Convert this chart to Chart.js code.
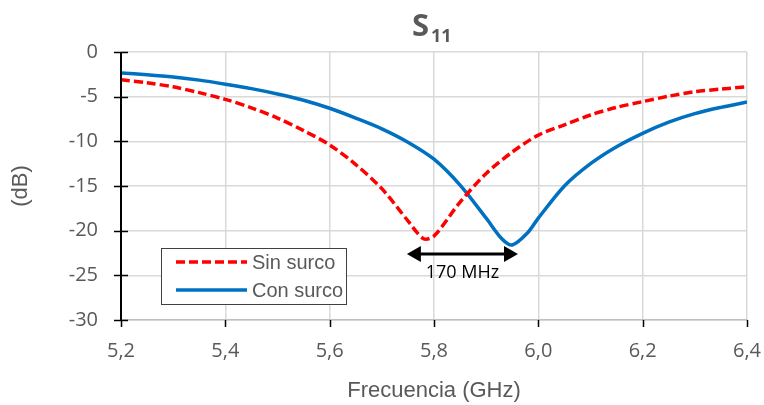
<!DOCTYPE html>
<html>
<head>
<meta charset="utf-8">
<script src="https://cdn.jsdelivr.net/npm/chart.js@4.4.1/dist/chart.umd.min.js"></script>
<style>
  html, body { margin: 0; padding: 0; background: #ffffff; }
  #wrap { width: 764px; height: 405px; }
</style>
</head>
<body>
<div id="wrap"><canvas id="s11Chart" width="764" height="405"></canvas></div>
<script>
// data
const freqSin = [5.20, 5.25, 5.30, 5.35, 5.40, 5.45, 5.50, 5.55, 5.60, 5.65, 5.70, 5.75, 5.78, 5.80, 5.85, 5.90, 5.95, 6.00, 6.05, 6.10, 6.15, 6.20, 6.25, 6.30, 6.35, 6.40];
const sinSurco = [-3.1, -3.45, -3.9, -4.55, -5.3, -6.25, -7.4, -8.8, -10.4, -12.6, -15.3, -18.9, -20.9, -20.6, -16.8, -13.6, -11.2, -9.3, -8.15, -7.05, -6.2, -5.55, -4.95, -4.45, -4.15, -3.9];

const freqCon = [5.20, 5.25, 5.30, 5.35, 5.40, 5.45, 5.50, 5.55, 5.60, 5.65, 5.70, 5.75, 5.80, 5.85, 5.90, 5.93, 5.95, 5.98, 6.00, 6.05, 6.10, 6.15, 6.20, 6.25, 6.30, 6.35, 6.40];
const conSurco = [-2.35, -2.55, -2.8, -3.15, -3.6, -4.1, -4.7, -5.4, -6.3, -7.4, -8.6, -10.1, -12.0, -14.9, -18.6, -20.9, -21.6, -20.2, -18.6, -15.0, -12.5, -10.6, -9.1, -7.85, -6.9, -6.2, -5.6];

const seriesNames = ["Sin surco", "Con surco"];
const xTicks = [5.2, 5.4, 5.6, 5.8, 6.0, 6.2, 6.4];
const yTicks = [0, -5, -10, -15, -20, -25, -30];

// bandwidth marker between the two minima
const arrowFrom = 5.748;
const arrowTo = 5.961;
const arrowY = -22.6;
const arrowText = "170 MHz";

const gray = "#595959";
const gridColor = "#d9d9d9";

function toPoints(xs, ys) {
  return xs.map((x, i) => ({ x: x, y: ys[i] }));
}

const decorPlugin = {
  id: "decor",
  afterDatasetsDraw(chart) {
    const ctx = chart.ctx;
    const xs = chart.scales.x;
    const ys = chart.scales.y;
    const area = chart.chartArea;

    ctx.save();

    // tick marks: y crosses the axis, x hangs below
    ctx.strokeStyle = "#000000";
    ctx.lineWidth = 1.5;
    yTicks.forEach((v) => {
      const py = Math.round(ys.getPixelForValue(v)) + 0.5;
      ctx.beginPath();
      ctx.moveTo(area.left - 7, py);
      ctx.lineTo(area.left + 7, py);
      ctx.stroke();
    });
    xTicks.forEach((v) => {
      const px = Math.round(xs.getPixelForValue(v)) + 0.5;
      ctx.beginPath();
      ctx.moveTo(px, area.bottom);
      ctx.lineTo(px, area.bottom + 7);
      ctx.stroke();
    });
    // left axis line
    ctx.lineWidth = 2;
    ctx.beginPath();
    ctx.moveTo(area.left, area.top);
    ctx.lineTo(area.left, area.bottom);
    ctx.stroke();

    // double arrow
    const ax1 = xs.getPixelForValue(arrowFrom);
    const ax2 = xs.getPixelForValue(arrowTo);
    const ay = ys.getPixelForValue(arrowY);
    ctx.strokeStyle = "#000000";
    ctx.fillStyle = "#000000";
    ctx.lineWidth = 3;
    ctx.beginPath();
    ctx.moveTo(ax1 + 10, ay);
    ctx.lineTo(ax2 - 10, ay);
    ctx.stroke();
    ctx.beginPath();
    ctx.moveTo(ax1, ay);
    ctx.lineTo(ax1 + 14, ay - 8);
    ctx.lineTo(ax1 + 14, ay + 8);
    ctx.closePath();
    ctx.fill();
    ctx.beginPath();
    ctx.moveTo(ax2, ay);
    ctx.lineTo(ax2 - 14, ay - 8);
    ctx.lineTo(ax2 - 14, ay + 8);
    ctx.closePath();
    ctx.fill();
    ctx.font = "18px 'Open Sans'";
    ctx.textAlign = "center";
    ctx.textBaseline = "middle";
    ctx.fillText(arrowText, (ax1 + ax2) / 2, ay + 19);

    // legend box inside the plot
    const lx = 161, ly = 248, lw = 185, lh = 56;
    ctx.fillStyle = "#ffffff";
    ctx.fillRect(lx, ly, lw, lh);
    ctx.strokeStyle = "#404040";
    ctx.lineWidth = 1;
    ctx.strokeRect(lx + 0.5, ly + 0.5, lw, lh);
    chart.data.datasets.forEach((ds, i) => {
      const rowY = ly + 14 + i * 28;
      ctx.strokeStyle = ds.borderColor;
      ctx.lineWidth = ds.borderWidth;
      ctx.setLineDash(ds.borderDash || []);
      ctx.beginPath();
      ctx.moveTo(lx + 15, rowY);
      ctx.lineTo(lx + 86, rowY);
      ctx.stroke();
      ctx.setLineDash([]);
      ctx.fillStyle = gray;
      ctx.font = "20px 'Liberation Sans'";
      ctx.textAlign = "left";
      ctx.textBaseline = "middle";
      ctx.fillText(ds.label, lx + 91, rowY + 1);
    });

    // title S11
    ctx.fillStyle = gray;
    ctx.textAlign = "left";
    ctx.textBaseline = "alphabetic";
    ctx.font = "bold 31px 'Open Sans'";
    ctx.fillText("S", 412, 36);
    ctx.font = "bold 18px 'Open Sans'";
    ctx.fillText("11", 431, 42);

    ctx.restore();
  },
};

new Chart(document.getElementById("s11Chart").getContext("2d"), {
  type: "line",
  data: {
    datasets: [
      {
        label: seriesNames[0],
        data: toPoints(freqSin, sinSurco),
        borderColor: "#ff0000",
        borderWidth: 3.5,
        borderDash: [9, 4],
        pointRadius: 0,
        tension: 0.3,
        fill: false,
      },
      {
        label: seriesNames[1],
        data: toPoints(freqCon, conSurco),
        borderColor: "#0070c0",
        borderWidth: 3.5,
        pointRadius: 0,
        tension: 0.3,
        fill: false,
      },
    ],
  },
  options: {
    responsive: false,
    animation: false,
    layout: {
      padding: { top: 52, right: 17, left: 0, bottom: 0 },
    },
    scales: {
      x: {
        type: "linear",
        min: 5.2,
        max: 6.4,
        afterFit: (scale) => {
          scale.height = 85;
          scale.paddingLeft = 0;
          scale.paddingRight = 0;
        },
        afterBuildTicks: (scale) => {
          scale.ticks = xTicks.map((v) => ({ value: v }));
        },
        ticks: {
          color: gray,
          font: { family: "'Open Sans'", size: 20 },
          padding: 19,
          maxRotation: 0,
          callback: (v) => Number(v).toFixed(1).replace(".", ","),
        },
        grid: { color: gridColor, lineWidth: 1.5, drawTicks: false },
        border: { color: "#bfbfbf", width: 1.5 },
        title: {
          display: true,
          text: "Frecuencia (GHz)",
          color: gray,
          font: { family: "'Liberation Sans'", size: 22 },
          padding: { top: 0, bottom: 1 },
        },
      },
      y: {
        min: -30,
        max: 0,
        afterFit: (scale) => {
          scale.width = 121;
          scale.paddingTop = 0;
          scale.paddingBottom = 0;
        },
        afterBuildTicks: (scale) => {
          scale.ticks = yTicks.map((v) => ({ value: v }));
        },
        ticks: {
          color: gray,
          font: { family: "'Open Sans'", size: 20 },
          padding: 23,
        },
        grid: { color: gridColor, lineWidth: 1.5, drawTicks: false },
        border: { display: false },
        title: {
          display: true,
          text: "(dB)",
          color: gray,
          font: { family: "'Liberation Sans'", size: 22 },
          padding: { top: 8, bottom: 0 },
        },
      },
    },
    plugins: {
      legend: { display: false },
      tooltip: { enabled: false },
    },
  },
  plugins: [decorPlugin],
});
</script>
</body>
</html>
